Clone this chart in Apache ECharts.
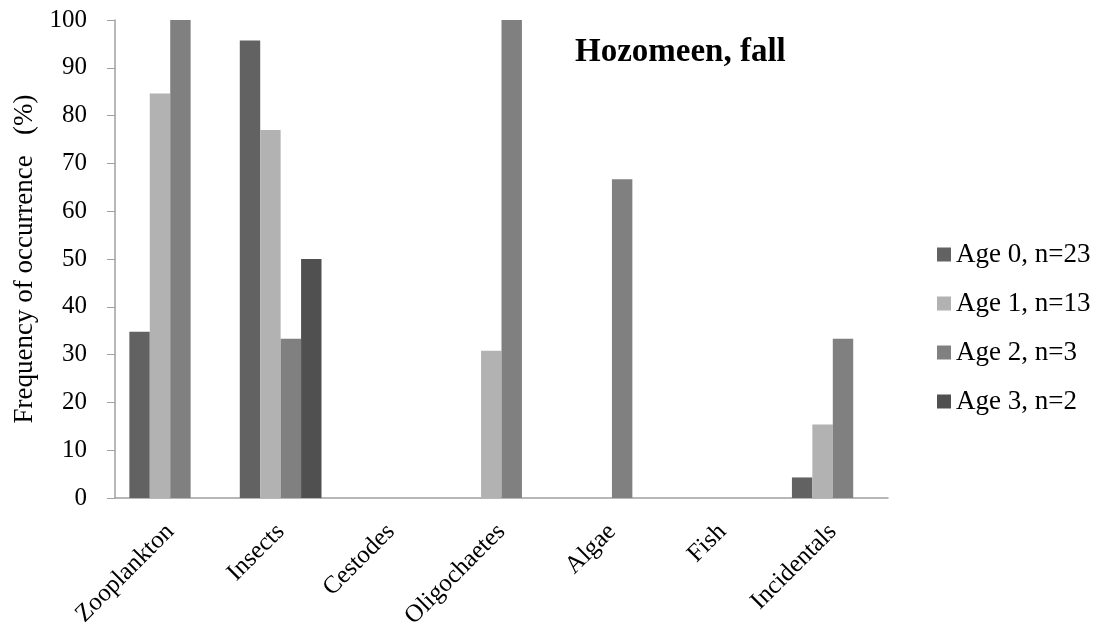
<!DOCTYPE html>
<html lang="en">
<head>
  <meta charset="UTF-8">
  <title>Hozomeen, fall</title>
  <script src="https://cdn.jsdelivr.net/npm/echarts@6/dist/echarts.min.js"></script>
  <style>
    body { margin: 0; background: #fff; }
    #chart { width: 1100px; height: 638px; }
  </style>
</head>
<body>
  <div id="chart"></div>
  <script>
    // data
    let categories = ['Zooplankton', 'Insects', 'Cestodes', 'Oligochaetes', 'Algae', 'Fish', 'Incidentals']
    let age0 = [34.8, 95.7, 0, 0, 0, 0, 4.3]
    let age1 = [84.6, 77, 0, 30.8, 0, 0, 15.4]
    let age2 = [100, 33.3, 0, 100, 66.7, 0, 33.3]
    let age3 = [0, 50, 0, 0, 0, 0, 0]
    let seriesNames = ['Age 0, n=23', 'Age 1, n=13', 'Age 2, n=3', 'Age 3, n=2']
    let colors = ['#626262', '#b2b2b2', '#808080', '#505050']

    let font = '"Liberation Serif", "Times New Roman", serif'
    let myChart = echarts.init(document.getElementById('chart'))

    let allData = [age0, age1, age2, age3]
    let series = seriesNames.map(function (name, i) {
      return {
        name: name,
        type: 'bar',
        data: allData[i],
        barGap: 0,
        barCategoryGap: '26%',
        itemStyle: { color: colors[i] }
      }
    })

    let option = {
      animation: false,
      color: colors,
      title: {
        text: 'Hozomeen, fall',
        left: 570,
        top: 31,
        textStyle: { fontFamily: font, fontSize: 33, fontWeight: 'bold', color: '#000' }
      },
      legend: {
        orient: 'vertical',
        left: 932,
        top: 236,
        itemWidth: 14,
        itemHeight: 14,
        itemGap: 22,
        icon: 'rect',
        textStyle: { fontFamily: font, fontSize: 27, color: '#000' }
      },
      grid: { left: 115, right: 212, top: 20, bottom: 140 },
      xAxis: {
        type: 'category',
        data: categories,
        axisLine: { lineStyle: { color: '#a0a0a0', width: 1.5 } },
        axisTick: { length: 7, lineStyle: { color: '#a0a0a0' } },
        axisLabel: { rotate: 45, margin: 30, fontFamily: font, fontSize: 25, color: '#000' }
      },
      yAxis: {
        type: 'value',
        min: 0,
        max: 100,
        interval: 10,
        name: 'Frequency of occurrence   (%)',
        nameLocation: 'middle',
        nameGap: 77,
        nameTextStyle: { fontFamily: font, fontSize: 27, color: '#000' },
        splitLine: { show: false },
        axisLine: { show: true, lineStyle: { color: '#a0a0a0', width: 1.5 } },
        axisTick: { show: true, length: 8, lineStyle: { color: '#a0a0a0' } },
        axisLabel: { margin: 28, fontFamily: font, fontSize: 25, color: '#000' }
      },
      series: series
    }
    myChart.setOption(option)
  </script>
</body>
</html>
